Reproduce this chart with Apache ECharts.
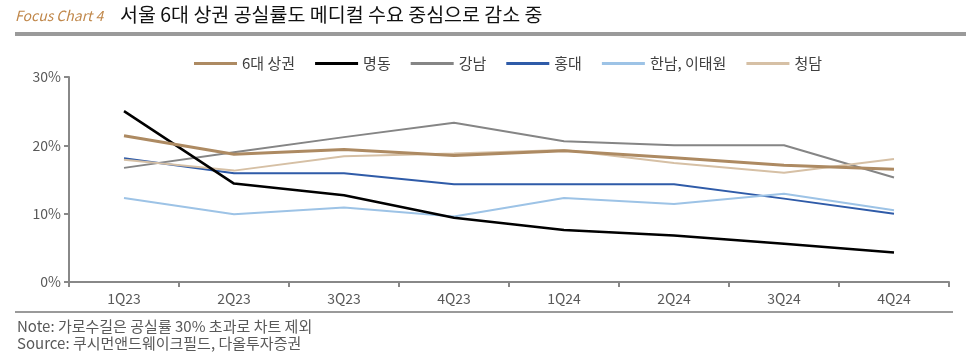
<!DOCTYPE html>
<html><head><meta charset="utf-8">
<script src="https://cdn.jsdelivr.net/npm/echarts@6/dist/echarts.min.js"></script>
<style>html,body{margin:0;padding:0;background:#fff}#c{width:966px;height:361px}</style>
</head><body><div id="c"></div>
<script>
const categories = ['1Q23','2Q23','3Q23','4Q23','1Q24','2Q24','3Q24','4Q24'];
const seriesNames = ['6대 상권','명동','강남','홍대','한남, 이태원','청담'];
const six = [21.4,18.7,19.4,18.5,19.2,18.2,17.1,16.5];
const myeongdong = [25.0,14.4,12.7,9.4,7.6,6.8,5.6,4.3];
const gangnam = [16.7,19.0,21.2,23.3,20.6,20.0,20.0,15.3];
const hongdae = [18.1,15.9,15.9,14.3,14.3,14.3,12.2,10.0];
const hannam = [12.3,9.9,10.9,9.6,12.3,11.4,12.9,10.5];
const cheongdam = [17.9,16.3,18.4,18.8,19.3,17.4,16.0,18.0];
const yTicks = [0,10,20,30];

const FONT = '"Noto Sans CJK KR", "Noto Sans", sans-serif';
const colors = ['#ad8a62','#000000','#858585','#2f5ba8','#9dc3e6','#d6c0a5'];
const widths = [3,2.5,2,2,2,2];
const dataAll = [six,myeongdong,gangnam,hongdae,hannam,cheongdam];

const chart = echarts.init(document.getElementById('c'));
chart.setOption({
  animation:false,
  textStyle:{fontFamily:FONT},
  legend:{
    left:189, top:51, itemWidth:43, itemHeight:3, itemGap:20,
    icon:'rect',
    textStyle:{fontSize:15,color:'#404040',fontFamily:FONT},
    data:seriesNames
  },
  grid:{left:69,right:17,top:77,bottom:79,containLabel:false},
  xAxis:{
    type:'category', data:categories, boundaryGap:true,
    axisLine:{lineStyle:{color:'#888',width:2}},
    axisTick:{show:true,length:5,lineStyle:{color:'#888',width:2}},
    axisLabel:{fontSize:14,color:'#595959',margin:10,fontFamily:FONT}
  },
  yAxis:{
    type:'value', min:0, max:30, interval:10,
    axisLine:{show:true,lineStyle:{color:'#888',width:2}},
    axisTick:{show:true,length:5,lineStyle:{color:'#888',width:2}},
    splitLine:{show:false},
    axisLabel:{fontSize:14,color:'#595959',margin:8,fontFamily:FONT,
      formatter:v=>yTicks.includes(v)?v+'%':''}
  },
  series: seriesNames.map((n,i)=>({
    name:n, type:'line', data:dataAll[i], symbol:'none', smooth:false,
    z: i===0?10:(i===1?9:5),
    lineStyle:{color:colors[i],width:widths[i]}, itemStyle:{color:colors[i]}
  })),
  graphic:[
    {type:'text',left:15,top:9,style:{text:'Focus Chart 4',font:'italic 14px '+FONT,fill:'#c0874a'}},
    {type:'text',left:120,top:5,style:{text:'서울 6대 상권 공실률도 메디컬 수요 중심으로 감소 중',font:'19.5px '+FONT,fill:'#111'}},
    {type:'rect',shape:{x:15,y:32,width:951,height:4},style:{fill:'#9a9a9a'}},
    {type:'rect',shape:{x:15,y:311,width:938,height:2},style:{fill:'#9a9a9a'}},
    {type:'text',left:17,top:319,style:{text:'Note: 가로수길은 공실률 30% 초과로 차트 제외',font:'15px '+FONT,fill:'#595959'}},
    {type:'text',left:17,top:336,style:{text:'Source: 쿠시먼앤드웨이크필드, 다올투자증권',font:'15px '+FONT,fill:'#595959'}}
  ]
});
</script></body></html>
